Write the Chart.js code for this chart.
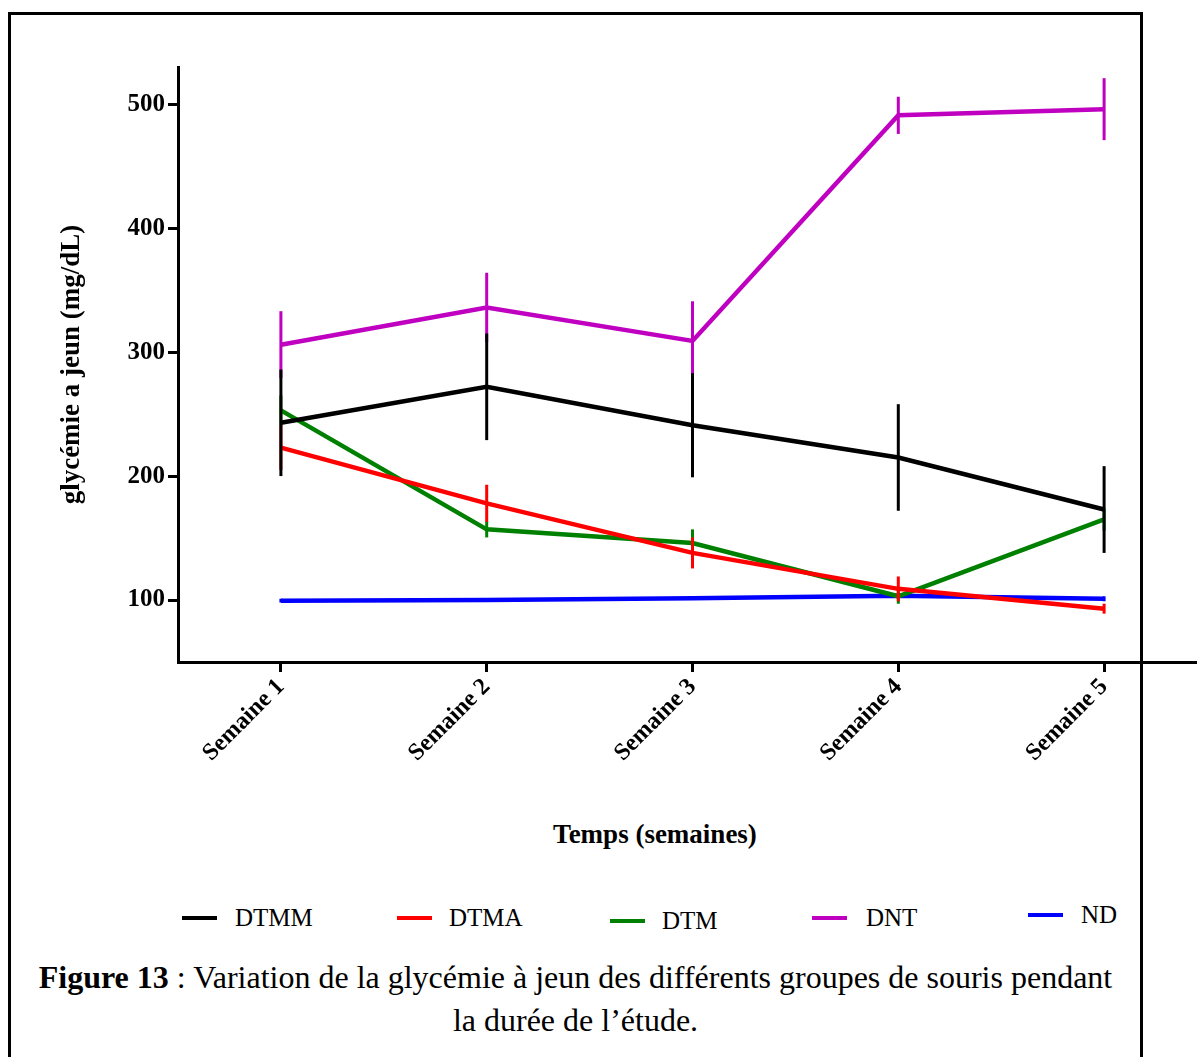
<!DOCTYPE html>
<html>
<head>
<meta charset="utf-8">
<script src="https://cdn.jsdelivr.net/npm/chart.js@4.4.1/dist/chart.umd.min.js"></script>
<style>
  html, body { margin: 0; padding: 0; background: #fff; overflow: hidden; width: 1197px; height: 1057px; }
  #frame { position: absolute; left: 8px; top: 12px; width: 1135px; height: 1100px; box-sizing: border-box; border: 3px solid #000; }
  #wrap { position: absolute; left: 0; top: 0; width: 1197px; height: 800px; overflow: hidden; }
  canvas { display: block; }
  #xtitle { position: absolute; left: 455px; width: 400px; top: 818px; text-align: center; font: bold 27px "Liberation Serif", "Times New Roman", serif; line-height: 32px; color: #000; }
  .leg-line { position: absolute; width: 35px; height: 4px; }
  .leg-text { position: absolute; font: 25px "Liberation Serif", "Times New Roman", serif; color: #000; line-height: 30px; }
  #caption { position: absolute; left: 8px; width: 1135px; top: 956px; text-align: center; font: 32px "Liberation Serif", "Times New Roman", serif; line-height: 43px; color: #000; white-space: nowrap; }
</style>
</head>
<body>
<div id="frame"></div>
<div id="wrap"><canvas id="c" width="1210" height="800"></canvas></div>
<div id="xtitle">Temps (semaines)</div>
<div id="legend"></div>
<div id="caption"><b>Figure 13</b> : Variation de la glycémie à jeun des différents groupes de souris pendant<br>la durée de l’étude.</div>
<script>
// ---- data ----
const categories = ['Semaine 1', 'Semaine 2', 'Semaine 3', 'Semaine 4', 'Semaine 5'];
const seriesNames = ['DTMM', 'DTMA', 'DTM', 'DNT', 'ND'];
const dtmm = [243, 272, 241, 215, 173];
const dtmmErr = [43, 43, 42, 43, 35];
const dtma = [223, 178, 138, 109, 93];
const dtmaErr = [18, 15, 12.5, 10, 4];
const dtm = [253, 157, 146, 103, 165];
const dtmErr = [12, 6.5, 11, 6, 9];
const dnt = [306, 336, 309, 491, 496];
const dntErr = [27, 28, 32, 15, 25];
const nd = [99.5, 100, 101.5, 103.5, 101];
const ndErr = [1.5, 1.5, 1.5, 1.5, 2];
const yTickValues = [100, 200, 300, 400, 500];
const yTitle = 'glycémie a jeun (mg/dL)';

// ---- styles ----
const colors = ['#000000', '#ff0000', '#008000', '#c000c0', '#0000ff'];
const values = [dtmm, dtma, dtm, dnt, nd];
const errors = [dtmmErr, dtmaErr, dtmErr, dntErr, ndErr];
const legendPos = [[182, 235, 918], [397, 449, 918], [610, 662, 921], [812, 866, 918], [1028, 1081, 915]];

const datasets = seriesNames.map((name, i) => ({
  label: name,
  data: values[i],
  errors: errors[i],
  borderColor: colors[i],
  backgroundColor: colors[i],
  borderWidth: 4.5,
  pointRadius: 0,
  tension: 0,
  fill: false
}));

const errorBars = {
  id: 'errorBars',
  afterDatasetDraw(chart, args) {
    const ds = chart.data.datasets[args.index];
    const ys = chart.scales.y;
    const ctx = chart.ctx;
    ctx.save();
    ctx.strokeStyle = ds.borderColor;
    ctx.lineWidth = 3;
    args.meta.data.forEach((pt, i) => {
      const v = ds.data[i], e = ds.errors[i];
      ctx.beginPath();
      ctx.moveTo(pt.x, ys.getPixelForValue(v + e));
      ctx.lineTo(pt.x, ys.getPixelForValue(v - e));
      ctx.stroke();
    });
    ctx.restore();
  }
};

const serif = '"Liberation Serif", "Times New Roman", serif';

const chart = new Chart(document.getElementById('c'), {
  type: 'line',
  data: { labels: categories, datasets },
  plugins: [errorBars],
  options: {
    responsive: false,
    animation: false,
    layout: { padding: { top: 67, left: 0, right: 3, bottom: 0 } },
    plugins: { legend: { display: false }, tooltip: { enabled: false } },
    scales: {
      x: {
        type: 'category',
        offset: true,
        border: { display: true, color: '#000', width: 3 },
        grid: { display: true, drawOnChartArea: false, drawTicks: true, tickLength: 10, tickWidth: 3, tickColor: '#000' },
        ticks: { color: '#000', font: { family: serif, size: 24, weight: 'bold' }, minRotation: 45, maxRotation: 45, autoSkip: false, padding: 1 },
        afterFit(scale) { scale.height = 138; }
      },
      y: {
        min: 50,
        max: 530,
        border: { display: true, color: '#000', width: 3 },
        grid: { display: true, drawOnChartArea: false, drawTicks: true, tickLength: 10, tickWidth: 3, tickColor: '#000' },
        ticks: { color: '#000', font: { family: serif, size: 25, weight: 'bold' }, padding: 3 },
        afterBuildTicks(scale) { scale.ticks = yTickValues.map(v => ({ value: v })); },
        title: { display: true, text: yTitle, color: '#000', font: { family: serif, size: 27, weight: 'bold' }, padding: { top: 56, bottom: 0 } },
        afterFit(scale) { scale.width = 178; }
      }
    }
  }
});

// HTML legend built from the dataset definitions
const legend = document.getElementById('legend');
chart.data.datasets.forEach((ds, i) => {
  const [lx, tx, cy] = legendPos[i];
  const line = document.createElement('div');
  line.className = 'leg-line';
  line.style.left = lx + 'px';
  line.style.top = (cy - 2) + 'px';
  line.style.background = ds.borderColor;
  legend.appendChild(line);
  const t = document.createElement('div');
  t.className = 'leg-text';
  t.style.left = tx + 'px';
  t.style.top = (cy - 15) + 'px';
  t.textContent = ds.label;
  legend.appendChild(t);
});
</script>
</body>
</html>
